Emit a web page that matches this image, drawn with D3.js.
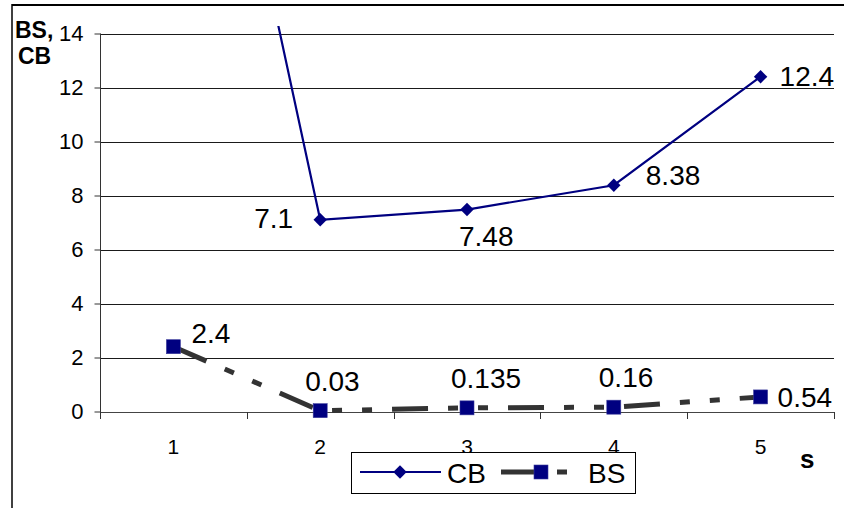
<!DOCTYPE html>
<html>
<head>
<meta charset="utf-8">
<script src="https://cdn.jsdelivr.net/npm/d3@7"></script>
<style>
  html, body { margin: 0; padding: 0; background: #fff; }
  svg { display: block; font-family: "Liberation Sans", Arial, sans-serif; }
</style>
</head>
<body>
<svg id="chart" width="844" height="508"></svg>
<script>
// Steps s and the two series
const categories = [1, 2, 3, 4, 5];
const cbValues = [32.3, 7.1, 7.48, 8.38, 12.4];
const bsValues = [2.4, 0.03, 0.135, 0.16, 0.54];
const cbLabels = [null, "7.1", "7.48", "8.38", "12.4"];
const bsLabels = ["2.4", "0.03", "0.135", "0.16", "0.54"];
const yTicks = [0, 2, 4, 6, 8, 10, 12, 14];

// label offsets relative to each point (dx, dy, anchor)
const cbLabelPos = [null, [-27, 8, "end"], [-8, 36, "start"], [32, 0, "start"], [19, 9, "start"]];
const bsLabelPos = [[18, -4, "start"], [-15, -20, "start"], [-16, -20, "start"], [-15, -20, "start"], [17, 10, "start"]];

const svg = d3.select("#chart");
const plot = { left: 100, right: 834, top: 26, bottom: 411.5 };

const x = d3.scaleBand().domain(categories).range([plot.left, plot.right]).padding(0);
const y = d3.scaleLinear().domain([0, 14]).range([411.5, 33.5]);
const cx = d => x(d) + x.bandwidth() / 2;

// outer frame (top and left edges)
svg.append("line").attr("x1", 12).attr("x2", 844).attr("y1", 5).attr("y2", 5)
  .attr("stroke", "#000").attr("stroke-width", 2);
svg.append("line").attr("x1", 12).attr("x2", 12).attr("y1", 4).attr("y2", 508)
  .attr("stroke", "#000").attr("stroke-width", 1.5);

// horizontal gridlines
svg.append("g").selectAll("line").data(yTicks.filter(t => t > 0)).join("line")
  .attr("x1", plot.left).attr("x2", plot.right)
  .attr("y1", d => Math.round(y(d)) + 0.5).attr("y2", d => Math.round(y(d)) + 0.5)
  .attr("stroke", "#1a1a1a").attr("stroke-width", 1);

// y axis
const yAxis = svg.append("g").attr("transform", `translate(${plot.left + 0.5},0)`)
  .call(d3.axisLeft(y).tickValues(yTicks).tickSize(6).tickPadding(11).tickFormat(d3.format("d")));
yAxis.select(".domain").attr("stroke", "#333").attr("d", `M-0,${y(14)}V${y(0) + 6}`);
yAxis.selectAll(".tick line").attr("stroke", "#333");
yAxis.selectAll(".tick text").attr("font-size", 22).attr("fill", "#000")
  .attr("font-family", "Liberation Sans, Arial, sans-serif");

// x axis
const xAxis = svg.append("g").attr("transform", `translate(0,${Math.round(y(0)) + 0.5})`)
  .call(d3.axisBottom(x).tickSize(0).tickPadding(27));
xAxis.select(".domain").attr("stroke", "#444").attr("d", `M${plot.left},0H${plot.right}`);
xAxis.selectAll(".tick text").attr("font-size", 21).attr("fill", "#000")
  .attr("font-family", "Liberation Sans, Arial, sans-serif");
// tick marks on band boundaries
svg.append("g").selectAll("line")
  .data(categories.map(c => x(c) + x.bandwidth()).concat([plot.left]))
  .join("line")
  .attr("x1", d => Math.round(d) + 0.5).attr("x2", d => Math.round(d) + 0.5)
  .attr("y1", Math.round(y(0))).attr("y2", Math.round(y(0)) + 7)
  .attr("stroke", "#333");

// clip region for the plot area
svg.append("clipPath").attr("id", "plotClip").append("rect")
  .attr("x", plot.left).attr("y", plot.top)
  .attr("width", plot.right - plot.left).attr("height", plot.bottom - plot.top + 20);

const line = d3.line().x((d, i) => cx(categories[i])).y(d => y(d));

// BS series: dark dashed line with square markers
svg.append("path").datum(bsValues)
  .attr("d", line).attr("fill", "none")
  .attr("stroke", "#333").attr("stroke-width", 5)
  .attr("stroke-dasharray", "36,20,10,20,10,20");

// CB series: navy line with diamond markers
svg.append("g").attr("clip-path", "url(#plotClip)")
  .append("path").datum(cbValues)
  .attr("d", line).attr("fill", "none")
  .attr("stroke", "#000080").attr("stroke-width", 2.2);

const diamond = d3.symbol().type(d3.symbolSquare).size(90);
svg.append("g").selectAll("path").data(cbValues.map((v, i) => [categories[i], v]).filter(d => d[1] <= 14))
  .join("path")
  .attr("d", diamond)
  .attr("transform", d => `translate(${cx(d[0])},${y(d[1])}) rotate(45)`)
  .attr("fill", "#000080");

svg.append("g").selectAll("rect").data(bsValues.map((v, i) => [categories[i], v]))
  .join("rect")
  .attr("x", d => cx(d[0]) - 7).attr("y", d => y(d[1]) - 7)
  .attr("width", 14).attr("height", 14)
  .attr("fill", "#000080").attr("stroke", "#3a3a9a").attr("stroke-width", 0.6);

// data labels
const labelFont = 28;
svg.append("g").selectAll("text")
  .data(cbValues.map((v, i) => ({ c: categories[i], v, t: cbLabels[i], p: cbLabelPos[i] })).filter(d => d.t))
  .join("text")
  .attr("x", d => cx(d.c) + d.p[0]).attr("y", d => y(d.v) + d.p[1])
  .attr("text-anchor", d => d.p[2])
  .attr("font-size", labelFont).attr("fill", "#000")
  .text(d => d.t);

svg.append("g").selectAll("text")
  .data(bsValues.map((v, i) => ({ c: categories[i], v, t: bsLabels[i], p: bsLabelPos[i] })))
  .join("text")
  .attr("x", d => cx(d.c) + d.p[0]).attr("y", d => y(d.v) + d.p[1])
  .attr("text-anchor", d => d.p[2])
  .attr("font-size", labelFont).attr("fill", "#000")
  .text(d => d.t);

// axis titles
svg.append("text").attr("x", 15).attr("y", 38).attr("font-size", 23).attr("font-weight", "bold").text("BS,");
svg.append("text").attr("x", 18).attr("y", 64).attr("font-size", 23).attr("font-weight", "bold").text("CB");
svg.append("text").attr("x", 800).attr("y", 468).attr("font-size", 26).attr("font-weight", "bold").text("s");

// legend
const lg = svg.append("g");
lg.append("rect").attr("x", 351.5).attr("y", 452.5).attr("width", 284).attr("height", 41)
  .attr("fill", "#fff").attr("stroke", "#000").attr("stroke-width", 1);
lg.append("line").attr("x1", 360).attr("x2", 441).attr("y1", 472).attr("y2", 472)
  .attr("stroke", "#000080").attr("stroke-width", 2.2);
lg.append("path").attr("d", diamond).attr("transform", "translate(400,472) rotate(45)").attr("fill", "#000080");
lg.append("text").attr("x", 447).attr("y", 483).attr("font-size", labelFont).text("CB");
lg.append("line").attr("x1", 501).attr("x2", 568).attr("y1", 472).attr("y2", 472)
  .attr("stroke", "#333").attr("stroke-width", 5).attr("stroke-dasharray", "36,20,10,20");
lg.append("rect").attr("x", 534).attr("y", 465).attr("width", 14).attr("height", 14)
  .attr("fill", "#000080").attr("stroke", "#3a3a9a").attr("stroke-width", 0.6);
lg.append("text").attr("x", 588).attr("y", 483).attr("font-size", labelFont).text("BS");
</script>
</body>
</html>
